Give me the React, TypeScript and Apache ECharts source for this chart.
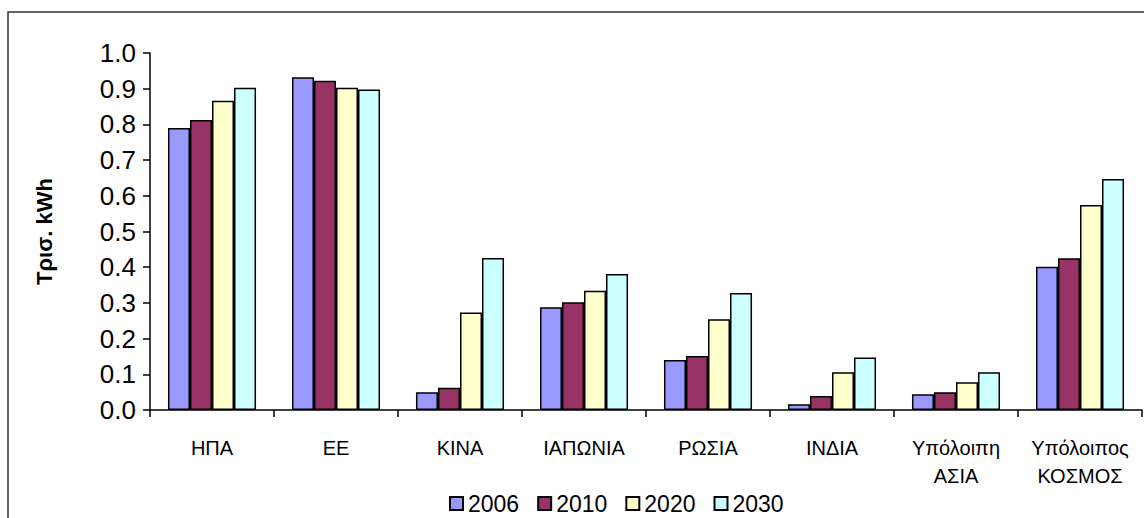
import React, { useEffect, useRef } from "react";
import * as echarts from "echarts";

const categories = [
  "ΗΠΑ",
  "ΕΕ",
  "ΚΙΝΑ",
  "ΙΑΠΩΝΙΑ",
  "ΡΩΣΙΑ",
  "ΙΝΔΙΑ",
  "Υπόλοιπη\nΑΣΙΑ",
  "Υπόλοιπος\nΚΟΣΜΟΣ",
];
const seriesNames = ["2006", "2010", "2020", "2030"];
const values2006 = [0.79, 0.932, 0.05, 0.288, 0.14, 0.016, 0.044, 0.401];
const values2010 = [0.812, 0.922, 0.062, 0.302, 0.151, 0.039, 0.05, 0.425];
const values2020 = [0.866, 0.903, 0.273, 0.334, 0.254, 0.106, 0.078, 0.574];
const values2030 = [0.903, 0.898, 0.426, 0.381, 0.328, 0.147, 0.106, 0.647];
const colors = ["#9999FF", "#993366", "#FFFFCC", "#CCFFFF"];
const yAxisTitle = "Τρισ. kWh";

export default function App() {
  const ref = useRef<HTMLDivElement>(null);
  useEffect(() => {
    if (!ref.current) return;
    const chart = echarts.init(ref.current, undefined, { renderer: "svg" });
    const data = [values2006, values2010, values2020, values2030];
    chart.setOption({
      animation: false,
      textStyle: { fontFamily: "Liberation Sans, Arial, sans-serif" },
      graphic: [
        {
          type: "rect",
          shape: { x: 8, y: 12, width: 1300, height: 700 },
          style: { fill: "none", stroke: "#333", lineWidth: 1.5 },
          silent: true,
        },
      ],
      legend: {
        data: seriesNames,
        left: 444,
        top: 487,
        itemWidth: 13,
        itemHeight: 13,
        itemGap: 18,
        icon: "rect",
        textStyle: { fontSize: 23, color: "#000" },
      },
      grid: { left: 150, right: 2, top: 53, bottom: 108, containLabel: false },
      xAxis: {
        type: "category",
        data: categories,
        axisLine: { lineStyle: { color: "#000", width: 1.5 } },
        axisTick: { show: true, length: 7, lineStyle: { color: "#000", width: 1.5 } },
        axisLabel: { fontSize: 20, color: "#000", margin: 24, lineHeight: 28, interval: 0 },
      },
      yAxis: {
        type: "value",
        min: 0,
        max: 1,
        interval: 0.1,
        name: yAxisTitle,
        nameLocation: "middle",
        nameGap: 95,
        nameTextStyle: { fontSize: 22, fontWeight: "bold", color: "#000" },
        axisLine: { show: true, lineStyle: { color: "#000", width: 1.5 } },
        axisTick: { show: true, length: 7, lineStyle: { color: "#000", width: 1.5 } },
        splitLine: { show: false },
        axisLabel: {
          fontSize: 26,
          color: "#000",
          margin: 14,
          formatter: (v: number) => v.toFixed(1),
        },
      },
      series: seriesNames.map((name, i) => ({
        name,
        type: "bar",
        data: data[i],
        barGap: "0%",
        barCategoryGap: "29%",
        itemStyle: { color: colors[i], borderColor: "#000", borderWidth: 1.5 },
      })),
    });
    return () => chart.dispose();
  }, []);
  return <div ref={ref} style={{ width: 1144, height: 518, position: "absolute", left: 0, top: 0 }} />;
}
